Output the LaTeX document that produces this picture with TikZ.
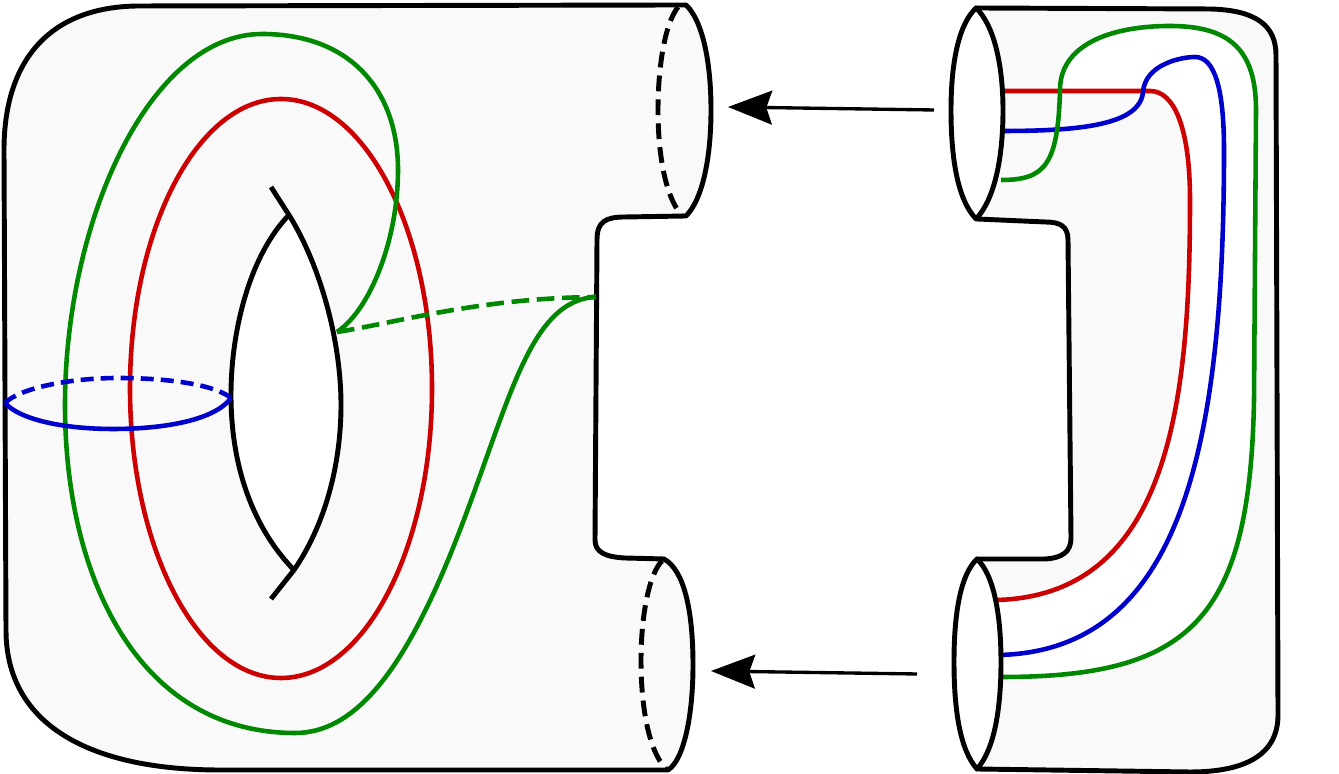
\documentclass[tikz,border=0pt]{standalone}
\definecolor{surfgray}{RGB}{249,249,249}
\definecolor{curvered}{RGB}{204,0,0}
\definecolor{curveblue}{RGB}{0,0,204}
\definecolor{curvegreen}{RGB}{0,136,0}
\usetikzlibrary{arrows.meta}

\begin{document}
\begin{tikzpicture}[
      x=0.01cm, y=-0.01cm,
      outline/.style={black, line width=1.4pt, line join=round},
      hidden/.style={outline, dash pattern=on 4.5pt off 2.3pt},
      redcurve/.style={curvered, line width=1.3pt},
      bluecurve/.style={curveblue, line width=1.3pt},
      greencurve/.style={curvegreen, line width=1.3pt},
      maparrow/.style={-{Stealth[length=12.5pt,width=9.6pt,inset=1.6pt]}, black, line width=0.95pt}
    ]
      \useasboundingbox (0,0) rectangle (1339,774);

      % Left surface
      \filldraw[outline, fill=surfgray] (686,5) -- (140,6) .. controls (50,6) and (4,60) .. (4,150)
        -- (6,630) .. controls (6,725) and (90,770) .. (220,770) -- (668,770)
        .. controls (684,760) and (693,715) .. (693,665) .. controls (693,610) and (684,570) .. (664,559)
        -- (625,558) .. controls (605,557) and (595,552) .. (595,540) -- (597,240)
        .. controls (597,222) and (605,217) .. (625,217) -- (686,216)
        .. controls (702,200) and (711,160) .. (711,110) .. controls (711,60) and (702,20) .. (686,5) -- cycle;
      \draw[hidden] (678,7) .. controls (664,25) and (658,70) .. (658,110) .. controls (658,150) and (664,195) .. (682,216);
      \draw[hidden] (662,561) .. controls (648,575) and (641,620) .. (641,660) .. controls (641,705) and (648,750) .. (666,769);

      % Hole
      \fill[white] (289,215) .. controls (250,255) and (231,330) .. (231,395) .. controls (231,470) and (255,530) .. (294,570)
        .. controls (325,525) and (341,465) .. (341,405) .. controls (341,340) and (320,265) .. (289,215) -- cycle;
      \draw[outline] (271,187) -- (289,215) .. controls (320,265) and (341,340) .. (341,405)
        .. controls (341,465) and (325,525) .. (294,570) -- (271,599);
      \draw[outline] (289,215) .. controls (250,255) and (231,330) .. (231,395) .. controls (231,470) and (255,530) .. (294,570);

      % Curves on the left surface
      \draw[redcurve] (281,388.5) ellipse [x radius=151, y radius=289.5];
      \draw[greencurve] (596,297) .. controls (530,300) and (510,400) .. (460,530)
        .. controls (410,660) and (360,733) .. (295,733) .. controls (140,733) and (65,580) .. (65,405)
        .. controls (65,220) and (150,34) .. (262,34) .. controls (350,34) and (398,90) .. (398,170)
        .. controls (398,240) and (370,310) .. (337,332);
      \draw[greencurve, dash pattern=on 5pt off 2.2pt] (337,332) .. controls (400,322) and (480,298) .. (596,297);
      \draw[bluecurve] (5,403) .. controls (20,420) and (65,429) .. (113,429) .. controls (165,429) and (215,420) .. (231,398);
      \draw[bluecurve, dash pattern=on 3.7pt off 2pt] (5,403) .. controls (20,388) and (70,378) .. (118,378) .. controls (170,378) and (215,385) .. (231,398);

      % Right surface
      \filldraw[outline, fill=surfgray] (976,8) -- (1210,9) .. controls (1255,10) and (1276,25) .. (1276,55)
        -- (1278,715) .. controls (1278,755) and (1245,772) .. (1190,772) -- (977,769)
        -- (977,559) -- (1045,559) .. controls (1062,558) and (1071,552) .. (1071,538)
        -- (1068,240) .. controls (1068,226) and (1060,222) .. (1045,222) -- (977,219) -- cycle;

      % White bands between the curves
      \fill[white] (1060,91) .. controls (1060,45) and (1110,26) .. (1170,26) .. controls (1230,26) and (1256,50) .. (1256,110)
        -- (1254,400) .. controls (1250,620) and (1190,677) .. (1002,677) -- (997,600)
        .. controls (1170,595) and (1190,400) .. (1190,200) .. controls (1190,130) and (1175,91) .. (1150,91) -- cycle;

      % Curves on the right surface
      \draw[redcurve] (1003,91) -- (1150,91) .. controls (1175,91) and (1190,130) .. (1190,200)
        .. controls (1190,400) and (1170,595) .. (997,600);
      \draw[bluecurve] (1003,131) .. controls (1080,131) and (1140,125) .. (1143,92)
        .. controls (1145,65) and (1180,57) .. (1195,57) .. controls (1215,57) and (1224,90) .. (1224,150)
        .. controls (1224,450) and (1180,650) .. (1000,655);
      \draw[greencurve] (1001,180) .. controls (1045,180) and (1058,165) .. (1060,90)
        .. controls (1060,45) and (1110,26) .. (1170,26) .. controls (1230,26) and (1256,50) .. (1256,110)
        -- (1254,400) .. controls (1250,620) and (1190,677) .. (1002,677);

      % Boundary circles
      \filldraw[outline, fill=white] (976,8) .. controls (958,25) and (951,65) .. (951,110) .. controls (951,160) and (958,200) .. (976,219)
        .. controls (994,200) and (1003,160) .. (1003,110) .. controls (1003,65) and (994,25) .. (976,8) -- cycle;
      \filldraw[outline, fill=white] (977,559) .. controls (960,575) and (954,615) .. (954,662) .. controls (954,710) and (960,750) .. (977,769)
        .. controls (994,750) and (1001,710) .. (1001,662) .. controls (1001,615) and (994,575) .. (977,559) -- cycle;

      % Arrows
      \coordinate (uppersrc) at (934,110);
      \coordinate (uppertgt) at (728,107);
      \coordinate (lowersrc) at (917,674);
      \coordinate (lowertgt) at (711,671);
      \draw[maparrow] (uppersrc) -- (uppertgt);
      \draw[maparrow] (lowersrc) -- (lowertgt);
    \end{tikzpicture}
\end{document}
